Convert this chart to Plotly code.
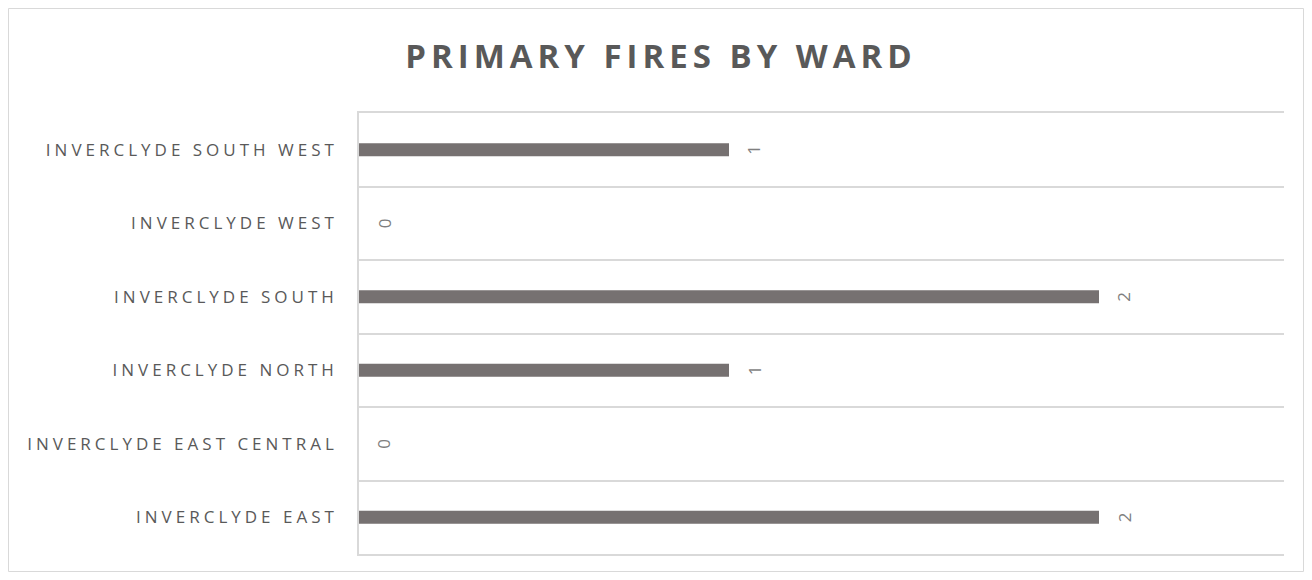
import plotly.graph_objects as go

categories = ["INVERCLYDE EAST", "INVERCLYDE EAST CENTRAL", "INVERCLYDE NORTH",
              "INVERCLYDE SOUTH", "INVERCLYDE WEST", "INVERCLYDE SOUTH WEST"]
fires = [2, 0, 1, 2, 0, 1]
title_text = "PRIMARY FIRES BY WARD"

W, H = 1312, 580
L, R, T, B = 359, 28, 113, 26
pw, ph = W - L - R, H - T - B

fig = go.Figure()
fig.add_trace(go.Bar(
    x=fires, y=categories, orientation="h",
    marker=dict(color="#767171", line=dict(width=0)),
    width=0.18, hoverinfo="x+y",
))

for v, c in zip(fires, categories):
    fig.add_annotation(x=v, y=c, text=str(v), showarrow=False, textangle=-90,
                       xshift=25, font=dict(family="Open Sans", size=17, color="#7f7f7f"))

def px_x(px):
    return (px - L) / pw

def px_y(py):
    return (H - B - py) / ph

fig.add_shape(type="rect", xref="paper", yref="paper",
              x0=px_x(8.5), x1=px_x(1303.5), y0=px_y(571.5), y1=px_y(8.5),
              line=dict(color="#d9d9d9", width=1), layer="below")

fig.update_layout(
    width=W, height=H,
    margin=dict(l=L, r=R, t=T, b=B, pad=0),
    paper_bgcolor="white", plot_bgcolor="white",
    showlegend=False,
    title=dict(text=title_text, x=0.5 + 5 / W, xanchor="center", xref="container",
               y=1 - 56 / H, yanchor="middle", yref="container",
               font=dict(family="Open Sans", size=33, color="#595959", weight="bold")),
    xaxis=dict(range=[0, 2.5], showticklabels=False, showgrid=False, zeroline=False,
               ticks="", showline=True, mirror=True, linecolor="#d9d9d9", linewidth=1.5,
               fixedrange=True),
    yaxis=dict(type="category", categoryorder="array", categoryarray=categories,
               range=[-0.5, 5.5], tickson="boundaries", ticks="",
               showgrid=True, gridcolor="#d9d9d9", gridwidth=1.5,
               showline=True, linecolor="#d9d9d9", linewidth=1.5,
               ticklabelstandoff=16,
               tickfont=dict(family="Open Sans", size=17, color="#595959")),
)

js = """
var s=document.createElement('style');
s.innerHTML='body{margin:0;overflow:hidden} .ytick text{letter-spacing:4px} .gtitle{letter-spacing:5px}';
document.head.appendChild(s);
"""
fig.write_html("out.html", post_script=js, config={"displayModeBar": False})
